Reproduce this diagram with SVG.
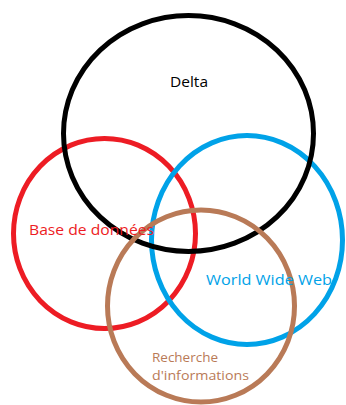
<svg xmlns="http://www.w3.org/2000/svg" width="346" height="405" viewBox="0 0 346 405">
<style>
.c{fill:none;stroke-width:5}
.t{font-family:"Open Sans","Noto Sans",sans-serif}
</style>
<rect width="346" height="405" fill="#ffffff"/>
<g id="base-de-donnees"><ellipse class="c" cx="104.5" cy="233.5" rx="91" ry="95" stroke="#ed1c24"/></g>
<g id="world-wide-web"><ellipse class="c" cx="247" cy="240" rx="95.5" ry="104.5" stroke="#00a2e8"/></g>
<g id="delta"><ellipse class="c" cx="188.5" cy="133.5" rx="125" ry="118" stroke="#000000"/></g>
<g id="recherche"><ellipse class="c" cx="201" cy="306" rx="93.5" ry="96" stroke="#b97a57"/></g>
<g id="labels" class="t">
<text x="170" y="87" font-size="15" fill="#000000" textLength="38" lengthAdjust="spacingAndGlyphs">Delta</text>
<text x="29" y="235" font-size="15" fill="#ed1c24" textLength="125" lengthAdjust="spacingAndGlyphs">Base de données</text>
<text x="206" y="285" font-size="15" fill="#00a2e8" textLength="126" lengthAdjust="spacingAndGlyphs">World Wide Web</text>
<text x="152" y="362" font-size="13" fill="#b97a57" textLength="66" lengthAdjust="spacingAndGlyphs">Recherche</text>
<text x="152" y="380" font-size="13" fill="#b97a57" textLength="97" lengthAdjust="spacingAndGlyphs">d'informations</text>
</g>
<g id="connectors"/>
</svg>
